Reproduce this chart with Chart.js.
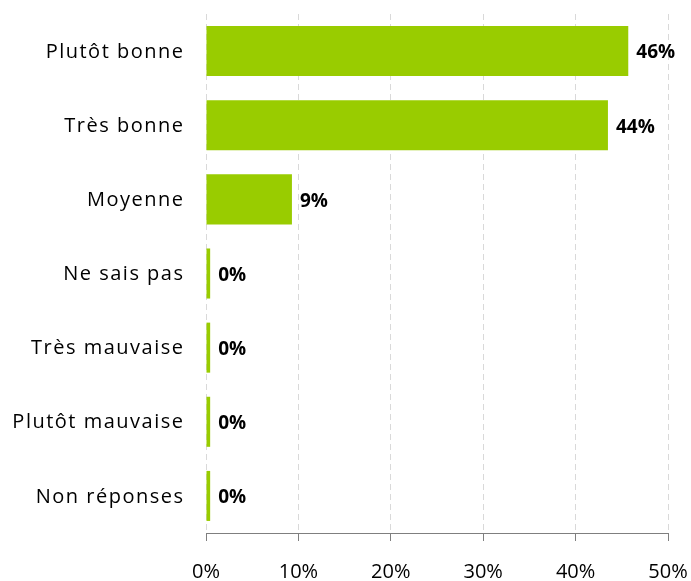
<!DOCTYPE html>
<html>
<head>
<meta charset="utf-8">
<script src="https://cdn.jsdelivr.net/npm/chart.js@4.4.1/dist/chart.umd.min.js"></script>
<style>
  html, body { margin: 0; padding: 0; background: #fff; }
  #wrap { width: 691px; height: 581px; }
</style>
</head>
<body>
<div id="wrap"><canvas id="bars"></canvas></div>
<script>
let categories = ['Plutôt bonne', 'Très bonne', 'Moyenne', 'Ne sais pas', 'Très mauvaise', 'Plutôt mauvaise', 'Non réponses']
let values = [45.7, 43.5, 9.3, 0.45, 0.45, 0.45, 0.45]
let xTicks = [0, 10, 20, 30, 40, 50]

const FONT = "'Open Sans', 'Noto Sans', sans-serif"

// write the rounded percentage just past the end of each bar
const barLabels = {
    id: 'barLabels',
    afterDatasetsDraw(chart) {
        const ctx = chart.ctx
        const meta = chart.getDatasetMeta(0)
        ctx.save()
        ctx.font = 'bold 19px ' + FONT
        ctx.fillStyle = '#000'
        ctx.textAlign = 'left'
        ctx.textBaseline = 'middle'
        meta.data.forEach((bar, i) => {
            ctx.fillText(Math.round(values[i]) + '%', bar.x + 8, bar.y + 2)
        })
        ctx.restore()
    }
}

// category names are set with a little tracking
const spacedLabels = {
    id: 'spacedLabels',
    afterLayout(chart) {
        const s = chart.scales.y
        if (s._spaced) return
        const orig = s.drawLabels.bind(s)
        s.drawLabels = area => {
            chart.ctx.save()
            chart.ctx.letterSpacing = '1.5px'
            orig(area)
            chart.ctx.restore()
        }
        s._spaced = true
    }
}

new Chart(document.getElementById('bars').getContext('2d'), {
    type: 'bar',
    data: {
        labels: categories,
        datasets: [{
            data: values,
            backgroundColor: '#99cc00',
            barPercentage: 0.675,
            categoryPercentage: 1
        }]
    },
    options: {
        indexAxis: 'y',
        responsive: true,
        maintainAspectRatio: false,
        animation: false,
        layout: { padding: { top: 14, right: 23, left: 0, bottom: 0 } },
        plugins: {
            legend: { display: false },
            tooltip: { enabled: false }
        },
        scales: {
            x: {
                min: 0,
                max: 50,
                afterBuildTicks: axis => { axis.ticks = xTicks.map(v => ({ value: v })) },
                afterFit: axis => {
                    axis.height = 48
                    axis.paddingLeft = 0
                    axis.paddingRight = 0
                },
                border: { display: true, color: '#7f7f7f', width: 1, dash: [6, 4] },
                grid: {
                    color: '#d9d9d9',
                    tickLength: 8,
                    tickColor: '#7f7f7f',
                    tickBorderDash: []
                },
                ticks: {
                    padding: 19,
                    color: '#000',
                    font: { family: FONT, size: 20 },
                    callback: v => v + '%'
                }
            },
            y: {
                afterFit: axis => {
                    axis.width = 206
                    axis.paddingTop = 0
                    axis.paddingBottom = 0
                },
                border: { display: false },
                grid: { display: false, drawTicks: false },
                ticks: {
                    padding: 21.5,
                    labelOffset: 1,
                    color: '#000',
                    font: { family: FONT, size: 20 }
                }
            }
        }
    },
    plugins: [barLabels, spacedLabels]
})
</script>
</body>
</html>
